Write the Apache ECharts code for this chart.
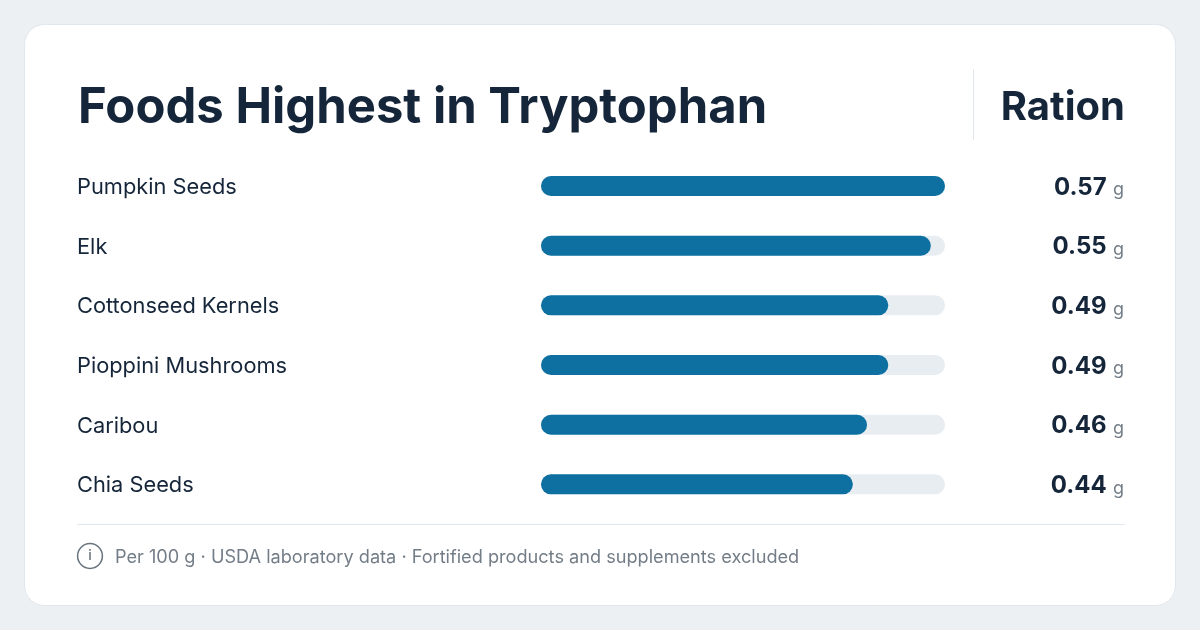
<!DOCTYPE html>
<html><head><meta charset="utf-8">
<style>html,body{margin:0;padding:0;background:#edf0f3}#c{width:1200px;height:630px}</style>
<script src="https://cdn.jsdelivr.net/npm/echarts@6/dist/echarts.min.js"></script></head>
<body><div id="c"></div>
<script>
const titleText = 'Foods Highest in Tryptophan';
const columnText = 'Ration';
const footnote = 'Per 100 g · USDA laboratory data · Fortified products and supplements excluded';
const categories = ['Pumpkin Seeds','Elk','Cottonseed Kernels','Pioppini Mushrooms','Caribou','Chia Seeds'];
const values = [0.57,0.55,0.49,0.49,0.46,0.44];
const unit = 'g';
const axisMax = 0.57;
const FONT = 'Inter';
const INK = '#16263a';
const chart = echarts.init(document.getElementById('c'), null, {renderer:'canvas'});
chart.setOption({
  animation:false,
  backgroundColor:'#edf0f3',
  grid:{left:541,width:404,top:156.2,height:358,containLabel:false},
  xAxis:{type:'value',min:0,max:axisMax,show:false},
  yAxis:[
    {type:'category',inverse:true,data:categories,position:'left',
     axisLine:{show:false},axisTick:{show:false},
     axisLabel:{align:'left',margin:464,formatter:v=>`{n|${v}}`,
       rich:{n:{color:INK,fontFamily:FONT,fontSize:21.8,fontWeight:400,padding:[3,0,0,0]}}}},
    {type:'category',inverse:true,data:values.map(v=>v.toFixed(2)),position:'right',
     axisLine:{show:false},axisTick:{show:false},
     axisLabel:{align:'right',margin:180,padding:[3,0,0,0],
       formatter:v=>`{v|${v}} {u|${unit}}`,
       rich:{v:{color:INK,fontFamily:FONT,fontSize:24,fontWeight:700},
             u:{color:'#737d87',fontFamily:FONT,fontSize:18,fontWeight:400,padding:[5,1,0,3]}}}}
  ],
  series:[{type:'bar',name:'Tryptophan',data:values,yAxisIndex:0,barWidth:20,
    itemStyle:{color:'#0e70a0',borderRadius:10},
    showBackground:true,backgroundStyle:{color:'#e8edf2',borderRadius:10},silent:true}],
  graphic:[
    {type:'rect',z:-10,shape:{x:24.5,y:24.5,width:1151,height:581,r:20},style:{fill:'#fff',stroke:'#e1e7ee',lineWidth:1}},
    {type:'text',z:5,x:78,y:108,style:{text:titleText,fill:INK,font:`700 49px ${FONT}`,textVerticalAlign:'middle'}},
    {type:'line',z:5,shape:{x1:973.5,y1:69,x2:973.5,y2:140},style:{stroke:'#e1e7ee',lineWidth:1}},
    {type:'text',z:5,x:1125,y:108,style:{text:columnText,fill:INK,font:`700 40px ${FONT}`,textAlign:'right',textVerticalAlign:'middle'}},
    {type:'line',z:5,shape:{x1:77,y1:524.5,x2:1125,y2:524.5},style:{stroke:'#e1e7ee',lineWidth:1}},
    {type:'circle',z:5,shape:{cx:90,cy:556,r:12.4},style:{fill:'none',stroke:'#68737d',lineWidth:1.5}},
    {type:'text',z:5,x:90,y:556,style:{text:'i',fill:'#68737d',font:`500 14px ${FONT}`,textAlign:'center',textVerticalAlign:'middle'}},
    {type:'text',z:5,x:115,y:558,style:{text:footnote,fill:'#737d87',font:`400 18.15px ${FONT}`,textVerticalAlign:'middle'}}
  ]
});
</script></body></html>
